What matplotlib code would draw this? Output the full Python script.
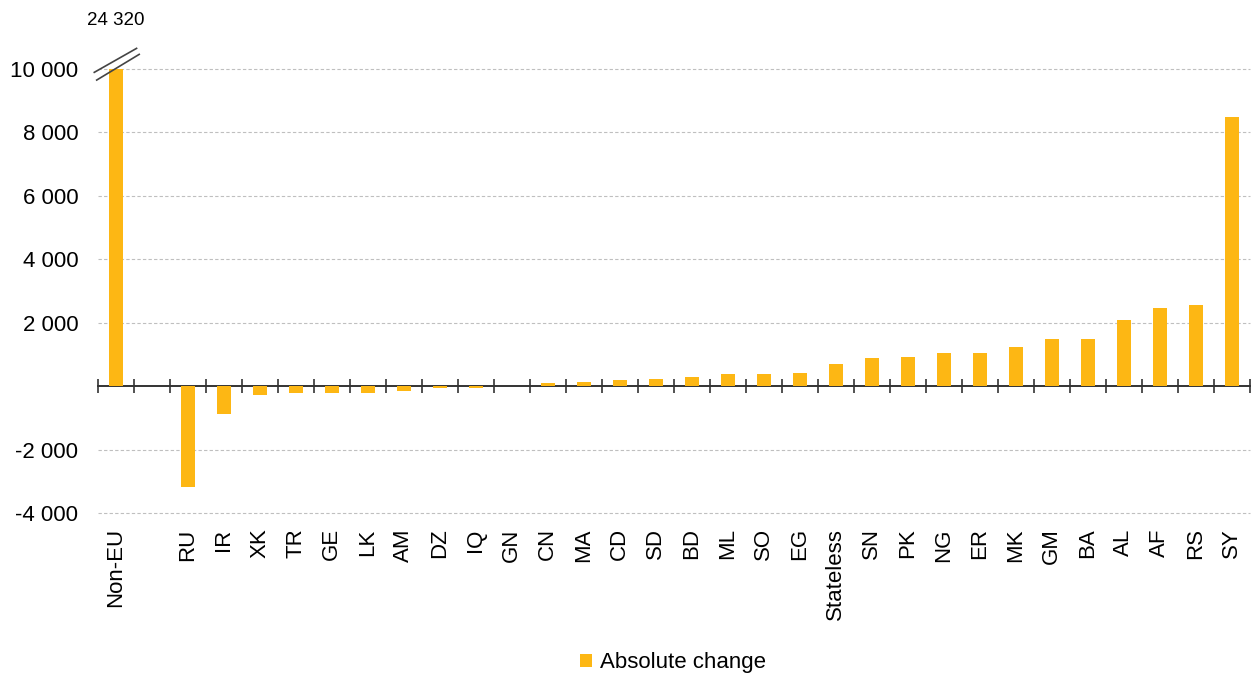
import numpy as np
import matplotlib
matplotlib.use("Agg")
import matplotlib.pyplot as plt
import matplotlib.transforms as mtransforms
from matplotlib.patches import Patch

# ============================================================
# Data
# ============================================================
categories = ["Non-EU", "RU", "IR", "XK", "TR", "GE", "LK", "AM", "DZ", "IQ", "GN",
              "CN", "MA", "CD", "SD", "BD", "ML", "SO", "EG", "Stateless", "SN", "PK",
              "NG", "ER", "MK", "GM", "BA", "AL", "AF", "RS", "SY"]
abs_change = [24320, -3170, -890, -270, -225, -225, -225, -140, -65, -60, 0,
              95, 135, 180, 220, 295, 390, 390, 420, 705, 877, 920,
              1045, 1045, 1245, 1485, 1485, 2100, 2475, 2550, 8500]

Y_TICKS = [-4000, -2000, 2000, 4000, 6000, 8000, 10000]
Y_MIN, Y_MAX = -4000, 10000

BAR_COLOR = "#FDB714"
GRID_COLOR = "#BFBFBF"
FS = 16

plt.rcParams["font.family"] = ["Liberation Sans", "DejaVu Sans"]
plt.rcParams["font.size"] = FS


def fmt_thousands(v):
    return f"{v:,.0f}".replace(",", " ")


# ============================================================
# Plot
# ============================================================
fig = plt.figure(figsize=(12.53, 6.77), dpi=100)
ax = fig.add_axes([0.078, 0.2422, 0.9195, 0.6558])

# one empty slot after the Non-EU total
positions = np.array([0] + list(range(2, len(categories) + 1)))
n_slots = len(categories) + 1

ax.bar(positions, abs_change, width=0.4, color=BAR_COLOR, zorder=3)

ax.set_xlim(-0.5, n_slots - 0.5)
ax.set_ylim(Y_MIN, Y_MAX)

ax.set_yticks(Y_TICKS)
ax.set_yticklabels([fmt_thousands(v) for v in Y_TICKS])
ax.tick_params(axis="y", length=0, pad=14, labelsize=FS)
ax.yaxis.grid(True, color=GRID_COLOR, linestyle=(0, (3, 2)), linewidth=0.8, zorder=0)
for gl in ax.get_ygridlines():
    gl.set_clip_on(False)

ax.set_xticks(positions)
ax.set_xticklabels(categories, rotation=90, va="top", ha="center")
ax.tick_params(axis="x", length=0, pad=11, labelsize=FS)

for s in ax.spines.values():
    s.set_visible(False)

# zero axis with tick marks between the categories
zero_ax = ax.secondary_xaxis(0, transform=ax.transData)
zero_ax.set_xticks(np.arange(n_slots + 1) - 0.5)
zero_ax.set_xticklabels([])
zero_ax.tick_params(direction="inout", length=10, width=1.2, color="#333333")
zero_ax.spines["bottom"].set_color("#333333")
zero_ax.spines["bottom"].set_linewidth(1.4)

# axis break marks on the truncated Non-EU bar
ax.plot([-0.003, 0.0337], [0.9926, 1.0466], transform=ax.transAxes,
        color="#444444", linewidth=1.2, clip_on=False, zorder=5)
ax.plot([-0.0009, 0.036], [0.9752, 1.0331], transform=ax.transAxes,
        color="#444444", linewidth=1.2, clip_on=False, zorder=5)

# real value of the truncated bar
trans = mtransforms.blended_transform_factory(ax.transData, ax.transAxes)
ax.text(positions[0], 1.11, fmt_thousands(abs_change[0]), transform=trans,
        ha="center", va="center", fontsize=13.5)

handles = [Patch(facecolor=BAR_COLOR, edgecolor="none", label="Absolute change")]
fig.legend(handles=handles, loc="center", bbox_to_anchor=(0.537, 0.021),
           frameon=False, fontsize=FS, handlelength=0.55, handleheight=0.55,
           handletextpad=0.35)

plt.savefig("out.png", dpi=100)
plt.close(fig)
